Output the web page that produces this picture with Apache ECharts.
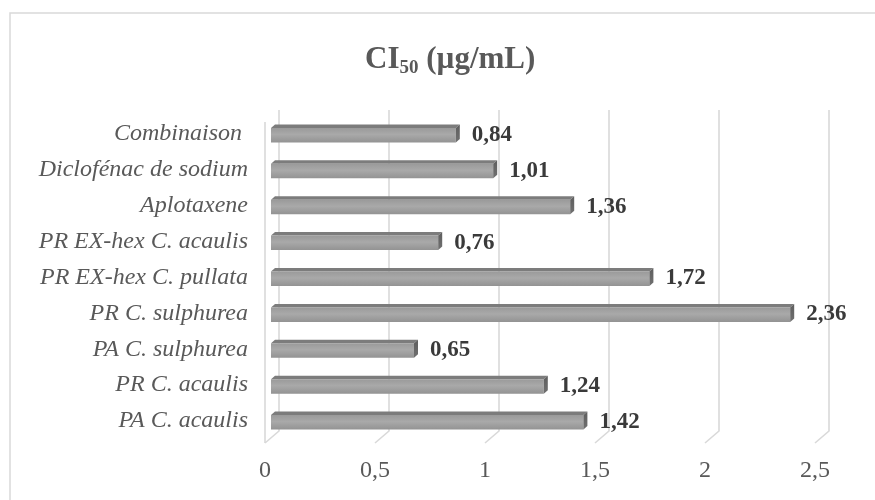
<!DOCTYPE html>
<html>
<head>
<meta charset="utf-8">
<title>CI50 (µg/mL)</title>
<script src="https://cdn.jsdelivr.net/npm/echarts@6/dist/echarts.min.js"></script>
<style>
  html, body { margin: 0; padding: 0; background: #ffffff; }
  #chart { width: 875px; height: 500px; }
</style>
</head>
<body>
<div id="chart"></div>
<script>
// Categories, listed from top to bottom
const categories = [
  'Combinaison ',
  'Diclofénac de sodium',
  'Aplotaxene',
  'PR EX-hex C. acaulis',
  'PR EX-hex C. pullata',
  'PR C. sulphurea',
  'PA C. sulphurea',
  'PR C. acaulis',
  'PA C. acaulis'
];
// CI50 values (µg/mL)
const values = [0.84, 1.01, 1.36, 0.76, 1.72, 2.36, 0.65, 1.24, 1.42];
// Value-axis ticks
const tickValues = [0, 0.5, 1, 1.5, 2, 2.5];

const SERIF = "'Liberation Serif', 'Times New Roman', serif";
const fmt = v => String(v).replace('.', ',');

// depth of the pseudo-3D floor / bars
const WALL = 7;       // horizontal shift between front and back planes
const DEPTH_Y = 12;   // vertical drop of the floor

const chart = echarts.init(document.getElementById('chart'), null, { renderer: 'canvas' });

const option = {
  backgroundColor: '#ffffff',
  animation: false,
  title: {
    left: 360,
    top: 39,
    text: '{m|CI}{s|50}{m| (µg/mL)}',
    textStyle: {
      rich: {
        m: { fontFamily: SERIF, fontWeight: 'bold', fontSize: 31, color: '#595959', verticalAlign: 'top' },
        s: { fontFamily: SERIF, fontWeight: 'bold', fontSize: 19, color: '#595959', verticalAlign: 'top', padding: [15, 0, 0, 0] }
      }
    }
  },
  graphic: [{
    type: 'rect',
    silent: true,
    shape: { x: 10, y: 13, width: 900, height: 600 },
    style: { fill: 'none', stroke: '#d9d9d9', lineWidth: 1.5 }
  }],
  grid: { left: 272, right: 53, top: 116, bottom: 61, containLabel: false },
  xAxis: {
    type: 'value',
    min: 0,
    max: 2.5,
    interval: 0.5,
    axisLine: { show: false },
    axisTick: { show: false },
    splitLine: { show: false },
    axisLabel: {
      margin: 20,
      fontFamily: SERIF,
      fontSize: 24,
      color: '#595959',
      padding: [0, WALL * 2, 0, 0],
      formatter: fmt
    }
  },
  yAxis: {
    type: 'category',
    data: categories,
    inverse: true,
    axisLine: { show: false },
    axisTick: { show: false },
    splitLine: { show: false },
    axisLabel: {
      margin: 24,
      fontFamily: SERIF,
      fontStyle: 'italic',
      fontSize: 24,
      color: '#595959'
    }
  },
  series: [
    {
      // back wall gridlines bending onto the floor
      type: 'custom',
      z: 1,
      silent: true,
      data: tickValues.map(v => [v, 0]),
      encode: { x: 0, y: 1 },
      renderItem: function (params, api) {
        const cs = params.coordSys;
        const x = api.coord([api.value(0), 0])[0];
        const backTop = cs.y - 6;
        const backBottom = cs.y + cs.height - 8;
        const frontBottom = backBottom + DEPTH_Y;
        const lineStyle = { stroke: '#d9d9d9', lineWidth: 1.6, fill: 'none' };
        const children = [{
          type: 'polyline',
          shape: { points: [[x + WALL, backTop], [x + WALL, backBottom], [x - WALL, frontBottom]] },
          style: lineStyle
        }];
        if (api.value(0) === 0) {
          // front edge of the side wall
          children.push({
            type: 'line',
            shape: { x1: x - WALL, y1: backTop + DEPTH_Y, x2: x - WALL, y2: frontBottom },
            style: lineStyle
          });
        }
        return { type: 'group', children: children };
      }
    },
    {
      // bars drawn as boxes: front face, top face, end cap, value label
      type: 'custom',
      z: 2,
      data: values.map((v, i) => [v, i]),
      encode: { x: 0, y: 1 },
      renderItem: function (params, api) {
        const v = api.value(0);
        const idx = api.value(1);
        const end = api.coord([v, idx]);
        const start = api.coord([0, idx]);
        const cy = end[1];
        const x0 = start[0] - 1;
        const x1 = end[0] - 1;
        const dx = 4, dy = 3.5;
        const top = cy - 6;
        const bottom = cy + 8.5;
        return {
          type: 'group',
          children: [
            {
              type: 'polygon',
              shape: { points: [[x0, top], [x0 + dx, top - dy], [x1 + dx, top - dy], [x1, top]] },
              style: { fill: '#7c7c7c' }
            },
            {
              type: 'rect',
              shape: { x: x0, y: top, width: x1 - x0, height: bottom - top },
              style: {
                fill: new echarts.graphic.LinearGradient(0, 0, 0, 1, [
                  { offset: 0, color: '#9a9a9a' },
                  { offset: 0.45, color: '#a9a9a9' },
                  { offset: 1, color: '#939393' }
                ])
              }
            },
            {
              type: 'polygon',
              shape: { points: [[x1, top], [x1 + dx, top - dy], [x1 + dx, bottom - dy], [x1, bottom]] },
              style: {
                fill: new echarts.graphic.LinearGradient(0, 0, 0, 1, [
                  { offset: 0, color: '#5e5e5e' },
                  { offset: 1, color: '#707070' }
                ])
              }
            },
            {
              type: 'text',
              style: {
                x: x1 + dx + 12,
                y: cy + 1,
                text: fmt(v),
                fontFamily: SERIF,
                fontWeight: 'bold',
                fontSize: 23,
                fill: '#3a3a3a',
                align: 'left',
                verticalAlign: 'middle'
              }
            }
          ]
        };
      }
    }
  ]
};

chart.setOption(option);
</script>
</body>
</html>
